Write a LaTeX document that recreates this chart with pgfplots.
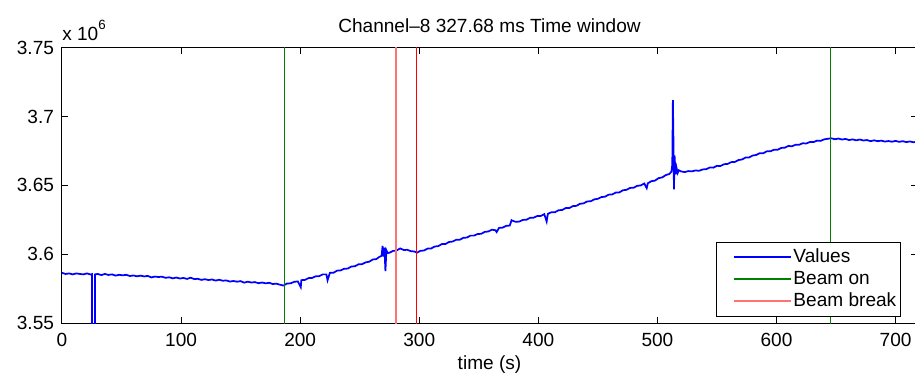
\documentclass[border=0pt]{standalone}
\usepackage{fontspec}
\setmainfont{Liberation Sans}
\usepackage{pgfplots}
\pgfplotsset{compat=1.18}

\definecolor{sigblue}{rgb}{0,0,1}
\definecolor{beamgreen}{rgb}{0,0.5,0}
\definecolor{beamred}{rgb}{1,0,0}

\newcommand{\plotfont}{\fontsize{14.3}{17}\selectfont}

\begin{document}
\begin{tikzpicture}
\begin{axis}[
  name=ax,
  scale only axis,
  width=641.25pt, height=206.85pt,
  xmin=0, xmax=718, ymin=3.55, ymax=3.75,
  xtick={0,100,...,700},
  ytick={3.55,3.6,3.65,3.7,3.75},
  yticklabels={3.55,3.6,3.65,3.7,3.75},
  tick align=inside,
  major tick length=4.5pt,
  axis line style={line width=0.75pt},
  every tick/.style={black, line width=0.75pt},
  /pgf/number format/assume math mode=true,
  tick label style={font=\plotfont, inner sep=0pt},
  xticklabel style={anchor=base, yshift=-17.5pt},
  yticklabel style={anchor=east, xshift=-5.8pt},
  title={Channel–8 327.68 ms Time window},
  title style={font=\plotfont, at={(0.5,1)}, anchor=base, yshift=5.4pt, inner sep=0pt},
  xlabel={time (s)},
  xlabel style={font=\plotfont, at={(0.5,0)}, anchor=base, yshift=-34.5pt, inner sep=0pt},
  legend cell align=left,
  legend style={font=\plotfont, at={(0.981,0.024)}, anchor=south east,
    draw=black, line width=0.75pt, inner xsep=1.5pt, inner ysep=3pt,
    row sep=0pt,
    nodes={inner sep=1.5pt, text height=10.5pt, text depth=3pt}},
  legend image code/.code={\path (-11.25pt,0pt);
    \draw[#1, line width=1.2pt] (-0.75pt,0pt) -- (42pt,0pt);},
]
% measured signal
\addplot[sigblue, line width=1.3pt] coordinates {
(0,3.5866) (3,3.5858) (6,3.5862) (9,3.5855) (12,3.5862) (15,3.5858) (18,3.5855) (21,3.5862) (24,3.5854)
(25.2,3.5857) (25.3,3.45) (27.7,3.45) (27.8,3.5855)
(30,3.5858) (33,3.5850) (36,3.5858) (39,3.5851) (42,3.5855) (45,3.5846) (48,3.5852)
(51,3.5848) (54,3.5852) (57,3.5843) (60,3.5847) (63,3.5841) (66,3.5846) (69,3.5840) (72,3.5844)
(75,3.5833) (78,3.5839) (81,3.5836) (84,3.5838) (87,3.5830) (90,3.5834) (93,3.5826) (96,3.5832) (99,3.5825)
(102,3.5829) (105,3.5822) (108,3.5831) (111,3.5821) (114,3.5823) (117,3.5815) (120,3.5820) (123,3.5814)
(126,3.5818) (129,3.5810) (132,3.5816) (135,3.5809) (138,3.5811) (141,3.5803) (144,3.5807) (147,3.5802)
(150,3.5806) (153,3.5795) (156,3.5802) (159,3.5796) (162,3.5799) (165,3.5791) (168,3.5796) (171,3.5790)
(174,3.5794) (177,3.5785) (180,3.5788) (183,3.5780) (186,3.5774) (189,3.5789) (192,3.5790) (195,3.5801)
(198,3.5804) (200.5,3.5762) (201,3.5813) (204,3.5815) (207,3.5828) (210,3.5829) (213,3.5841)
(216,3.5842) (219,3.5855) (222,3.5855) (223,3.5812) (225,3.5867) (228,3.5867) (231,3.5882) (234,3.5884)
(237,3.5896) (240,3.5897) (243,3.5912) (246,3.5914) (249,3.5928) (252,3.5929) (255,3.5942) (258,3.5947)
(261,3.5963) (264,3.5966) (266,3.5979)
(268.4,3.5990) (269.2,3.6062) (270,3.5985) (270.8,3.6048) (271.6,3.5878) (272.4,3.6030) (273.5,3.6010)
(275,3.6012) (278,3.6025) (281,3.6029) (284,3.6043) (287,3.6032) (290,3.6033) (293,3.6023) (296,3.6021)
(298,3.6012) (301,3.6026) (304,3.6028) (307,3.6042) (310,3.6043) (313,3.6057) (316,3.6060) (319,3.6075)
(322,3.6075) (325,3.6090) (328,3.6093) (331,3.6106) (334,3.6106) (337,3.6120) (340,3.6122) (343,3.6136)
(346,3.6136) (349,3.6148) (352,3.6149) (355,3.6163) (358,3.6166) (361,3.6179) (364,3.6175) (365,3.6162)
(367,3.6192) (370,3.6194) (373,3.6207) (376,3.6209) (377.5,3.6248) (378,3.6245) (381,3.6236) (384,3.6238)
(387,3.6250) (390,3.6251) (393,3.6265) (396,3.6266) (399,3.6278) (402,3.6278) (405,3.6292) (407,3.6238)
(408,3.6294) (411,3.6306) (414,3.6306) (417,3.6320) (420,3.6322) (423,3.6336) (426,3.6336) (429,3.6350)
(432,3.6352) (435,3.6367) (438,3.6370) (441,3.6384) (444,3.6385) (447,3.6399) (450,3.6403) (453,3.6416)
(456,3.6418) (459,3.6433) (462,3.6435) (465,3.6448) (468,3.6449) (471,3.6465) (474,3.6468) (477,3.6482)
(480,3.6483) (483,3.6497) (486,3.6500) (489,3.6514) (491,3.6480) (492,3.6516) (495,3.6531) (498,3.6535)
(501,3.6553) (504,3.6558) (507,3.6575) (510,3.6583)
(511.8,3.6600) (512.5,3.6650) (513.0,3.7118) (513.5,3.6800) (513.9,3.6471) (514.4,3.6718) (515.2,3.6580)
(516,3.6630) (517,3.6590) (518,3.6610)
(520,3.6601) (523,3.6597) (526,3.6604) (529,3.6602) (532,3.6609) (535,3.6606) (538,3.6616) (541,3.6618)
(544,3.6630) (547,3.6629) (550,3.6642) (553,3.6641) (556,3.6654) (559,3.6656) (562,3.6669) (565,3.6670)
(568,3.6684) (571,3.6688) (574,3.6702) (577,3.6703) (580,3.6717) (583,3.6721) (586,3.6734) (589,3.6734)
(592,3.6748) (595,3.6748) (598,3.6759) (601,3.6759) (604,3.6772) (607,3.6774) (610,3.6786) (613,3.6784)
(616,3.6795) (619,3.6795) (622,3.6806) (625,3.6804) (628,3.6815) (631,3.6814) (634,3.6825) (637,3.6823)
(640,3.6834) (643,3.6838) (646,3.6842) (649,3.6835) (652,3.6840) (655,3.6833) (658,3.6837) (661,3.6829)
(664,3.6834) (667,3.6827) (670,3.6833) (673,3.6826) (676,3.6829) (679,3.6821) (682,3.6827) (685,3.6821)
(688,3.6825) (691,3.6818) (694,3.6822) (697,3.6817) (700,3.6823) (703,3.6816) (706,3.6821) (709,3.6814)
(712,3.6819) (715,3.6813) (718,3.6817) (720,3.6815)
};
\addlegendentry{Values}
% beam on markers
\addplot[beamgreen, line width=1pt] coordinates {(186.85,3.5) (186.85,3.8)};
\addlegendentry{Beam on}
\addplot[beamgreen, line width=1pt, forget plot] coordinates {(645.4,3.5) (645.4,3.8)};
% beam break markers
\addplot[beamred!55!white, line width=1.5pt] coordinates {(280.48,3.5) (280.48,3.8)};
\addlegendentry{Beam break}
\addplot[beamred, line width=1pt, forget plot] coordinates {(297.7,3.5) (297.7,3.8)};
\end{axis}
% exponent of the y axis
\node[anchor=base west, inner sep=0pt, font=\plotfont] at ([yshift=5.6pt]ax.north west)
  {x 10\raisebox{0.55em}{\fontsize{10}{10}\selectfont 6}};
\pgfresetboundingbox
\useasboundingbox (-46.5pt,-38.8pt) rectangle (639.75pt,242.5pt);
\end{tikzpicture}
\end{document}
